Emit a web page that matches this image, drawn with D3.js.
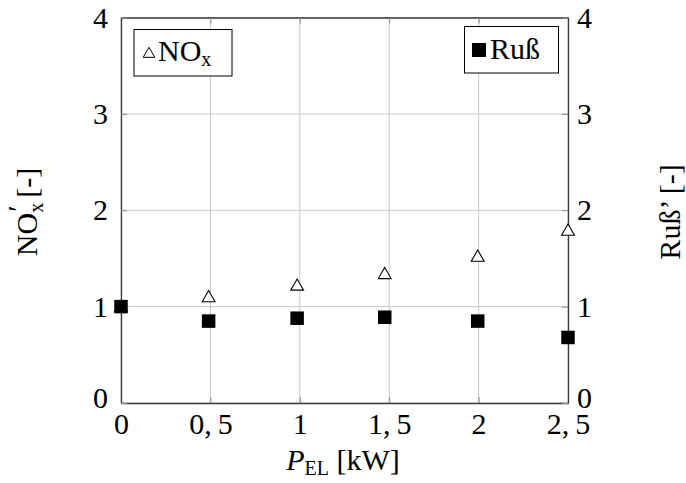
<!DOCTYPE html>
<html>
<head>
<meta charset="utf-8">
<script src="https://cdn.jsdelivr.net/npm/d3@7"></script>
<style>
  html, body { margin: 0; padding: 0; background: #fff; }
  svg { display: block; }
</style>
</head>
<body>
<script>
// Electrical load (kW) and normalised emissions
const loadKW = [0, 0.49, 0.985, 1.475, 1.995, 2.5];
const noxRel = [1.0, 1.10, 1.22, 1.34, 1.52, 1.79];
const sootRel = [1.0, 0.85, 0.88, 0.89, 0.85, 0.68];
const xTicks = [0, 0.5, 1, 1.5, 2, 2.5];
const xTickLabels = ["0", "0,\u20095", "1", "1,\u20095", "2", "2,\u20095"];
const yTicks = [0, 1, 2, 3, 4];

const FONT = "'Liberation Serif', 'Times New Roman', serif";
const FS = "30px", SUB = "20px";
const W = 686, H = 483;
const m = { left: 121, right: 118, top: 17.5, bottom: 80 };

const svg = d3.select("body").append("svg").attr("width", W).attr("height", H)
  .style("font-family", FONT);

const x = d3.scaleLinear().domain([0, 2.5]).range([m.left, W - m.right]);
const yL = d3.scaleLinear().domain([0, 4]).range([H - m.bottom, m.top]);
const yR = d3.scaleLinear().domain([0, 4]).range([H - m.bottom, m.top]);

const x0 = x.range()[0], x1 = x.range()[1];
const y0 = yL.range()[0], y1 = yL.range()[1];

// grid
const grid = svg.append("g").attr("stroke", "#c8c8c8").attr("stroke-width", 1);
grid.selectAll(".gx").data(xTicks).join("line")
  .attr("x1", d => x(d)).attr("x2", d => x(d)).attr("y1", y0).attr("y2", y1);
grid.selectAll(".gy").data(yTicks).join("line")
  .attr("x1", x0).attr("x2", x1).attr("y1", d => yL(d)).attr("y2", d => yL(d));

// axes with inward ticks
const fmtX = d => xTickLabels[xTicks.indexOf(d)];
const axB = svg.append("g").attr("transform", `translate(0,${y0})`)
  .call(d3.axisBottom(x).tickValues(xTicks).tickSizeInner(-6).tickSizeOuter(0).tickPadding(10).tickFormat(fmtX));
const axT = svg.append("g").attr("transform", `translate(0,${y1})`)
  .call(d3.axisTop(x).tickValues(xTicks).tickSizeInner(-6).tickSizeOuter(0).tickFormat(""));
const axL = svg.append("g").attr("transform", `translate(${x0},0)`)
  .call(d3.axisLeft(yL).tickValues(yTicks).tickSizeInner(-6).tickSizeOuter(0).tickPadding(13).tickFormat(d3.format("d")));
const axR = svg.append("g").attr("transform", `translate(${x1},0)`)
  .call(d3.axisRight(yR).tickValues(yTicks).tickSizeInner(-6).tickSizeOuter(0).tickPadding(9).tickFormat(d3.format("d")));

[axB, axT, axL, axR].forEach(a => {
  a.attr("font-family", null).attr("font-size", null);
  a.select(".domain").attr("stroke", "#3a3a3a").attr("stroke-width", 1.3);
  a.selectAll(".tick line").attr("stroke", "#8a8a8a").attr("stroke-width", 1);
  a.selectAll("text").style("font-family", FONT).style("font-size", FS).attr("fill", "#000");
});
axB.selectAll("text").attr("dy", "0.7em");
axL.selectAll("text").attr("dy", "0.32em");
axR.selectAll("text").attr("dy", "0.32em");
axL.select(".tick:first-of-type text").attr("dy", "0.15em");
axR.select(".tick:first-of-type text").attr("dy", "0.15em");

// series: triangles (NOx) and filled squares (soot)
const tri = d3.symbol().type(d3.symbolTriangle).size(72);
svg.append("g").selectAll("path").data(loadKW).join("path")
  .attr("d", tri)
  .attr("transform", (d, i) => `translate(${x(d)},${yL(noxRel[i]) + 1})`)
  .attr("fill", "#fff").attr("stroke", "#000").attr("stroke-width", 1.1);

const sq = 13.5;
svg.append("g").selectAll("rect").data(loadKW).join("rect")
  .attr("x", d => x(d) - sq / 2)
  .attr("y", (d, i) => yR(sootRel[i]) - sq / 2)
  .attr("width", sq).attr("height", sq)
  .attr("fill", "#000");

function label(sel) {
  return sel.append("text").style("font-family", FONT).style("font-size", FS).attr("fill", "#000");
}

// legends
const lg1 = svg.append("g");
lg1.append("rect").attr("x", 134).attr("y", 29.5).attr("width", 98).attr("height", 46.5)
  .attr("fill", "#fff").attr("stroke", "#000").attr("stroke-width", 1);
lg1.append("path").attr("d", d3.symbol().type(d3.symbolTriangle).size(58))
  .attr("transform", "translate(149,54)").attr("fill", "#fff").attr("stroke", "#000").attr("stroke-width", 1);
const t1 = label(lg1).attr("x", 158).attr("y", 61);
t1.append("tspan").text("NO");
t1.append("tspan").text("x").style("font-size", SUB).attr("dy", 5);

const lg2 = svg.append("g");
lg2.append("rect").attr("x", 464.5).attr("y", 26.5).attr("width", 94).attr("height", 46.5)
  .attr("fill", "#fff").attr("stroke", "#000").attr("stroke-width", 1);
lg2.append("rect").attr("x", 472).attr("y", 43).attr("width", 14).attr("height", 14).attr("fill", "#000");
label(lg2).attr("x", 490).attr("y", 59).text("Ruß");

// axis titles
const xt = label(svg).attr("x", 343).attr("y", 470).attr("text-anchor", "middle");
xt.append("tspan").text("P").style("font-style", "italic");
xt.append("tspan").text("EL").style("font-size", SUB).attr("dy", 5);
xt.append("tspan").text(" [kW]").attr("dy", -5);

const ylt = label(svg).attr("transform", "translate(37,212) rotate(-90)").attr("text-anchor", "middle");
ylt.append("tspan").text("NO");
ylt.append("tspan").text("x").style("font-size", SUB).attr("dy", 6);
ylt.append("tspan").text("′").attr("dy", -15).attr("dx", -9);
ylt.append("tspan").text(" [-]").attr("dy", 9);

label(svg).attr("transform", "translate(680,212) rotate(-90)")
  .attr("text-anchor", "middle").text("Ruß’ [-]");
</script>
</body>
</html>
